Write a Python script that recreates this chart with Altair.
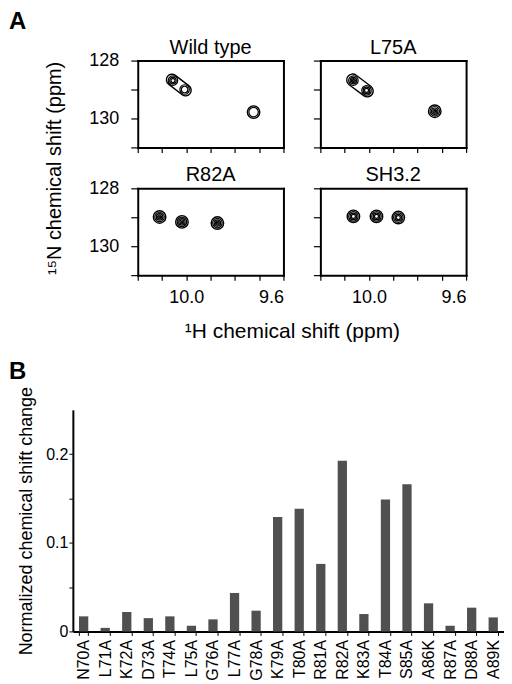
import math
import altair as alt
import pandas as pd

FONT = "Liberation Sans"

# ---------------- Panel A data (peak positions) -------------
PANEL_NAMES = ["Wild type", "L75A", "R82A", "SH3.2"]
WT_H = [10.055, 10.007, 9.723]
WT_N = [128.69, 129.00, 129.78]
WT_RINGS = [4, 3, 2]
L75A_H = [10.064, 10.010, 9.729]
L75A_N = [128.69, 129.03, 129.75]
L75A_RINGS = [5, 4, 5]
R82A_H = [10.110, 10.018, 9.872]
R82A_N = [128.99, 129.16, 129.20]
R82A_RINGS = [5, 5, 5]
SH32_H = [10.064, 9.969, 9.879]
SH32_N = [128.97, 128.97, 129.01]
SH32_RINGS = [4, 4, 4]
# pairs of peaks enclosed by one common outer contour
WT_PAIRS = [(0, 1)]
L75A_PAIRS = [(0, 1)]

H_DOMAIN = [10.2, 9.6]
N_DOMAIN = [128, 131]
X_TICKS = [10.2, 10.1, 10.0, 9.9, 9.8, 9.7, 9.6]
Y_TICKS = [128, 129, 130, 131]

# ---------------- Panel B data ----------------
MUTANTS = ["N70A", "L71A", "K72A", "D73A", "T74A", "L75A", "G76A", "L77A", "G78A",
           "K79A", "T80A", "R81A", "R82A", "K83A", "T84A", "S85A", "A86K", "R87A",
           "D88A", "A89K"]
SHIFT = [0.017, 0.004, 0.022, 0.015, 0.017, 0.0064, 0.0136, 0.0434, 0.0234, 0.129,
         0.1385, 0.0762, 0.1925, 0.0196, 0.149, 0.166, 0.0317, 0.0064, 0.0268, 0.0158]
B_DOMAIN = [0, 0.25]
B_TICKS = [0, 0.05, 0.1, 0.15, 0.2]

# ---------------- layout / style ----------------
RING_D = [12.5, 9.5, 6.5, 4, 1.8]         # contour ring diameters
# capsule outline spanning x in [-1, 1]; Vega scales custom paths by sqrt(size)/2
CAPSULE = "M -0.62 -0.4 L 0.62 -0.4 A 0.4 0.4 0 0 1 0.62 0.4 L -0.62 0.4 A 0.4 0.4 0 0 1 -0.62 -0.4 Z"
W, H = 432, 572                            # whole drawing area (bar chart width)
COL_RANGE = [[65, 211], [248, 394]]        # pixel ranges of the two spectrum columns
ROW_RANGE = [[0, 87], [128, 215]]          # pixel ranges of the two spectrum rows
BAR_Y_RANGE = [572, 350]                   # pixel range of the bar chart value axis
PX_PER_H = (COL_RANGE[0][1] - COL_RANGE[0][0]) / abs(H_DOMAIN[1] - H_DOMAIN[0])
PX_PER_N = (ROW_RANGE[0][1] - ROW_RANGE[0][0]) / abs(N_DOMAIN[1] - N_DOMAIN[0])


def outer_table(Hs, Ns, pairs):
    paired = {i for p in pairs for i in p}
    rows = []
    for i, (h, n) in enumerate(zip(Hs, Ns)):
        if i not in paired:
            rows.append({"h": h, "n": n, "size": RING_D[0] ** 2, "shape": "circle", "ang": 0.0})
    for a, b in pairs:
        dx = (Hs[a] - Hs[b]) * PX_PER_H
        dy = (Ns[b] - Ns[a]) * PX_PER_N
        length = math.hypot(dx, dy) + RING_D[0] * 1.05
        rows.append({"h": (Hs[a] + Hs[b]) / 2, "n": (Ns[a] + Ns[b]) / 2,
                     "size": length ** 2, "shape": CAPSULE,
                     "ang": math.degrees(math.atan2(dy, dx))})
    return pd.DataFrame(rows)


def inner_table(Hs, Ns, rings):
    rows = []
    for h, n, k in zip(Hs, Ns, rings):
        for d in RING_D[1:k]:
            rows.append({"h": h, "n": n, "size": d * d})
    return pd.DataFrame(rows)


def label(text, x, y, size, weight="normal", angle=0, align="center", baseline="middle"):
    return alt.Chart(pd.DataFrame({"t": [text]})).mark_text(
        font=FONT, fontSize=size, fontWeight=weight, angle=angle, align=align,
        baseline=baseline, color="black"
    ).encode(text="t:N", x=alt.value(x), y=alt.value(y))


def spectrum(Hs, Ns, rings, pairs, col, row):
    xr, yr = COL_RANGE[col], ROW_RANGE[row]
    xs = alt.Scale(domain=H_DOMAIN, range=xr, nice=False, zero=False)
    ys = alt.Scale(domain=N_DOMAIN, range=yr, nice=False, zero=False)
    frame = dict(title=None, grid=False, domain=True, domainColor="black",
                 domainWidth=2, domainCap="square")
    bottom = alt.Axis(orient="bottom", offset=yr[1] - H, values=X_TICKS, labels=(row == 1),
                      labelExpr="abs(datum.value-10)<0.001 ? '10.0' : (abs(datum.value-9.6)<0.001 ? '9.6' : '')",
                      tickSize=5, tickWidth=1.2, tickColor="black", labelFontSize=18,
                      labelPadding=8, labelColor="black", labelFont=FONT, **frame)
    left = alt.Axis(orient="left", offset=-xr[0], values=Y_TICKS, labels=(col == 0),
                    labelExpr="abs(datum.value-128)<0.001 ? '128' : (abs(datum.value-130)<0.001 ? '130' : '')",
                    tickSize=7, tickWidth=1.2, tickColor="black", labelFontSize=18,
                    labelPadding=12, labelColor="black", labelFont=FONT, **frame)
    top = alt.Axis(orient="top", offset=-yr[0], ticks=False, labels=False, **frame)
    right = alt.Axis(orient="right", offset=xr[1] - W, ticks=False, labels=False, **frame)

    outer = alt.Chart(outer_table(Hs, Ns, pairs)).mark_point(
        filled=False, color="black", strokeWidth=1.4, opacity=1
    ).encode(
        x=alt.X("h:Q", scale=xs, axis=bottom),
        y=alt.Y("n:Q", scale=ys, axis=left),
        size=alt.Size("size:Q", scale=None, legend=None),
        shape=alt.Shape("shape:N", scale=None, legend=None),
        angle=alt.Angle("ang:Q", scale=None),
    )
    inner = alt.Chart(inner_table(Hs, Ns, rings)).mark_point(
        shape="circle", filled=False, color="black", strokeWidth=1.2, opacity=1
    ).encode(
        x=alt.X("h:Q", scale=xs, axis=top),
        y=alt.Y("n:Q", scale=ys, axis=right),
        size=alt.Size("size:Q", scale=None, legend=None),
    )
    return [outer, inner]


layers = []
specs = [(WT_H, WT_N, WT_RINGS, WT_PAIRS), (L75A_H, L75A_N, L75A_RINGS, L75A_PAIRS),
         (R82A_H, R82A_N, R82A_RINGS, []), (SH32_H, SH32_N, SH32_RINGS, [])]
for i, (Hs, Ns, R, P) in enumerate(specs):
    col, row = i % 2, i // 2
    layers += spectrum(Hs, Ns, R, P, col, row)
    xr, yr = COL_RANGE[col], ROW_RANGE[row]
    layers.append(label(PANEL_NAMES[i], (xr[0] + xr[1]) / 2, yr[0] - 7, 20, baseline="alphabetic"))

layers += [
    label("A", -64, -51, 24, weight="bold", align="left", baseline="top"),
    label("¹⁵N chemical shift (ppm)", -18, 108, 20, angle=270),
    label("¹H chemical shift (ppm)", 220, 272, 21),
    label("B", -64, 300, 24, weight="bold", align="left", baseline="top"),
]

bar_df = pd.DataFrame({"mut": MUTANTS, "val": SHIFT})
bars = alt.Chart(bar_df).mark_bar(color="#505050").encode(
    x=alt.X("mut:N", sort=MUTANTS,
            scale=alt.Scale(paddingInner=0.57, paddingOuter=0.285),
            axis=alt.Axis(orient="bottom", offset=0, title=None, labelAngle=270, labelFontSize=16,
                          labelFont=FONT, labelColor="black", labelPadding=4, tickSize=4,
                          tickBand="extent", tickColor="black", domainColor="black",
                          domainWidth=2, grid=False)),
    y=alt.Y("val:Q", scale=alt.Scale(domain=B_DOMAIN, range=BAR_Y_RANGE, nice=False, zero=True),
            axis=alt.Axis(orient="left", offset=0, values=B_TICKS, grid=False,
                          labelExpr="length(format(datum.value,'.2~f')) <= 3 ? format(datum.value,'.2~f') : ''",
                          title="Normalized chemical shift change", titleFontSize=18,
                          titleFont=FONT, titleFontWeight="normal", titleColor="black",
                          titlePadding=10, labelFontSize=16, labelFont=FONT, labelColor="black",
                          labelPadding=1, tickSize=4, tickColor="black",
                          domainColor="black", domainWidth=2)),
)
layers.append(bars)

chart = alt.layer(*layers).resolve_scale(
    x="independent", y="independent"
).resolve_axis(
    x="independent", y="independent"
).properties(width=W, height=H, padding={"left": 1, "top": 1, "right": 0, "bottom": 0}).configure(
    font=FONT, background="white", view=alt.ViewConfig(stroke="transparent")
)

chart.save("out.html", embed_options={"renderer": "svg", "actions": False})
